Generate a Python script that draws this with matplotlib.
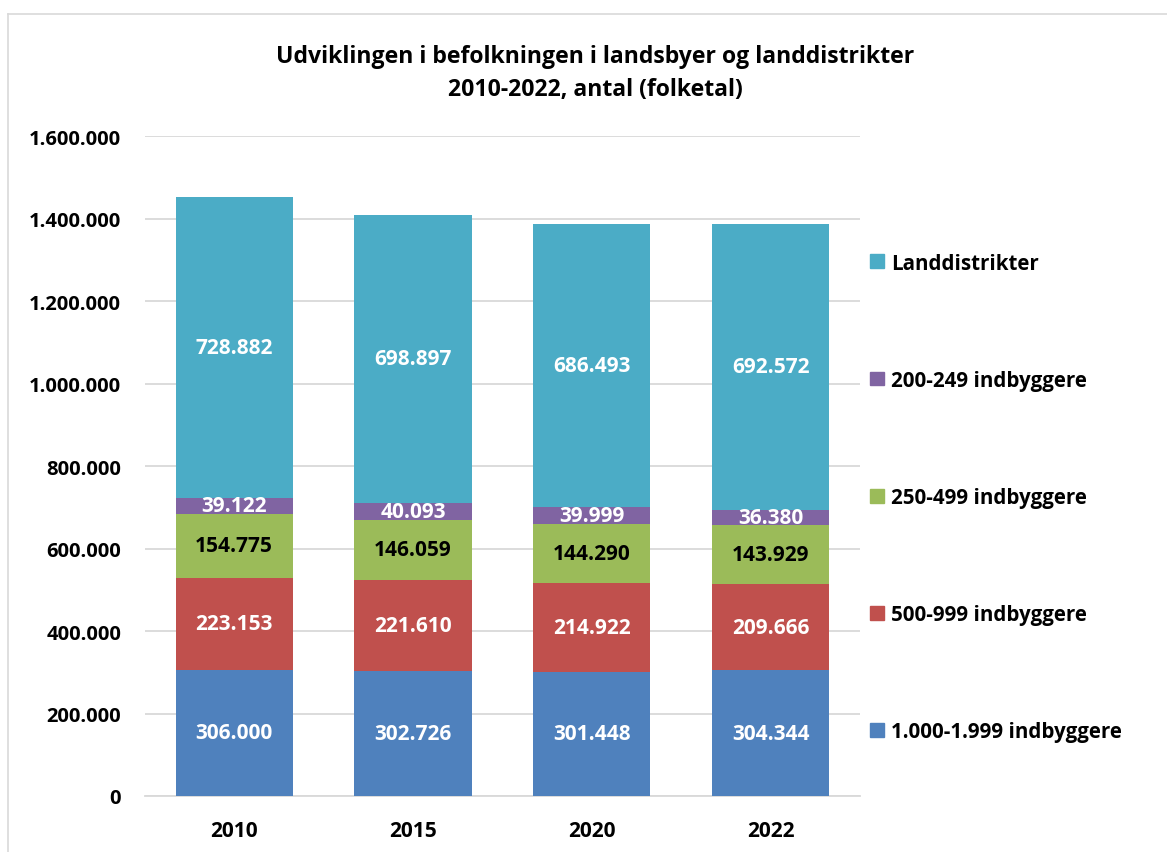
import matplotlib.pyplot as plt
from matplotlib.patches import Patch
from matplotlib.lines import Line2D

# data (folketal)
years = ['2010', '2015', '2020', '2022']
series = ['1.000-1.999 indbyggere', '500-999 indbyggere', '250-499 indbyggere',
          '200-249 indbyggere', 'Landdistrikter']
by_1000_1999 = [306000, 302726, 301448, 304344]
by_500_999 = [223153, 221610, 214922, 209666]
by_250_499 = [154775, 146059, 144290, 143929]
by_200_249 = [39122, 40093, 39999, 36380]
landdistrikter = [728882, 698897, 686493, 692572]
y_ticks = [0, 200000, 400000, 600000, 800000, 1000000, 1200000, 1400000, 1600000]

values = [by_1000_1999, by_500_999, by_250_499, by_200_249, landdistrikter]
colors = ['#4F81BD', '#C0504D', '#9BBB59', '#8064A2', '#4BACC6']
label_colors = ['white', 'white', 'black', 'white', 'white']

plt.rcParams['font.family'] = ['Open Sans', 'DejaVu Sans']
plt.rcParams['font.weight'] = 'bold'


def dk(n):
    return f'{n:,}'.replace(',', '.')


fig = plt.figure(figsize=(11.67, 8.53), dpi=100)
ax = fig.add_axes([0.124, 0.0657, 0.613, 0.7733])

x = range(len(years))
bottom = [0] * len(years)
handles = []
for vals, col, lc, name in zip(values, colors, label_colors, series):
    bars = ax.bar(x, vals, bottom=bottom, width=0.655, color=col, zorder=3)
    for b, v, y0 in zip(bars, vals, bottom):
        ax.text(b.get_x() + b.get_width() / 2, y0 + v / 2, dk(v), ha='center', va='center',
                color=lc, fontsize=15, fontweight='bold', zorder=4)
    bottom = [a + b for a, b in zip(bottom, vals)]
    handles.append(Patch(color=col, label=name))

ax.set_ylim(0, 1600000)
ax.set_xlim(-0.5, len(years) - 0.5)
ax.set_yticks(y_ticks)
ax.set_yticklabels([dk(t) for t in y_ticks], fontsize=14.5, fontweight='bold')
ax.set_xticks(list(x))
ax.set_xticklabels(years, fontsize=15, fontweight='bold')
ax.tick_params(length=0)
ax.tick_params(axis='y', pad=17)
ax.tick_params(axis='x', pad=17)
ax.grid(axis='y', color='#D9D9D9', linewidth=1.3, zorder=0)
for s in ['top', 'right', 'left']:
    ax.spines[s].set_visible(False)
ax.spines['bottom'].set_color('#D9D9D9')
ax.spines['bottom'].set_linewidth(1.3)

fig.text(0.51, 0.9135, 'Udviklingen i befolkningen i landsbyer og landdistrikter\n2010-2022, antal (folketal)',
         ha='center', va='center', fontsize=16.6, fontweight='bold', linespacing=1.5)

leg = fig.legend(handles=handles[::-1], loc='upper left', bbox_to_anchor=(0.73, 0.7245),
                 frameon=False, fontsize=14.8, labelspacing=4.68, handlelength=0.65,
                 handleheight=0.65, handletextpad=0.35)
for t in leg.get_texts():
    t.set_fontweight('bold')

# chart frame
fig.add_artist(Line2D([0.007, 0.007], [0, 0.982], color='#D9D9D9', linewidth=1.2))
fig.add_artist(Line2D([0.007, 1.0], [0.982, 0.982], color='#D9D9D9', linewidth=1.2))

fig.savefig('out.png', dpi=100)
